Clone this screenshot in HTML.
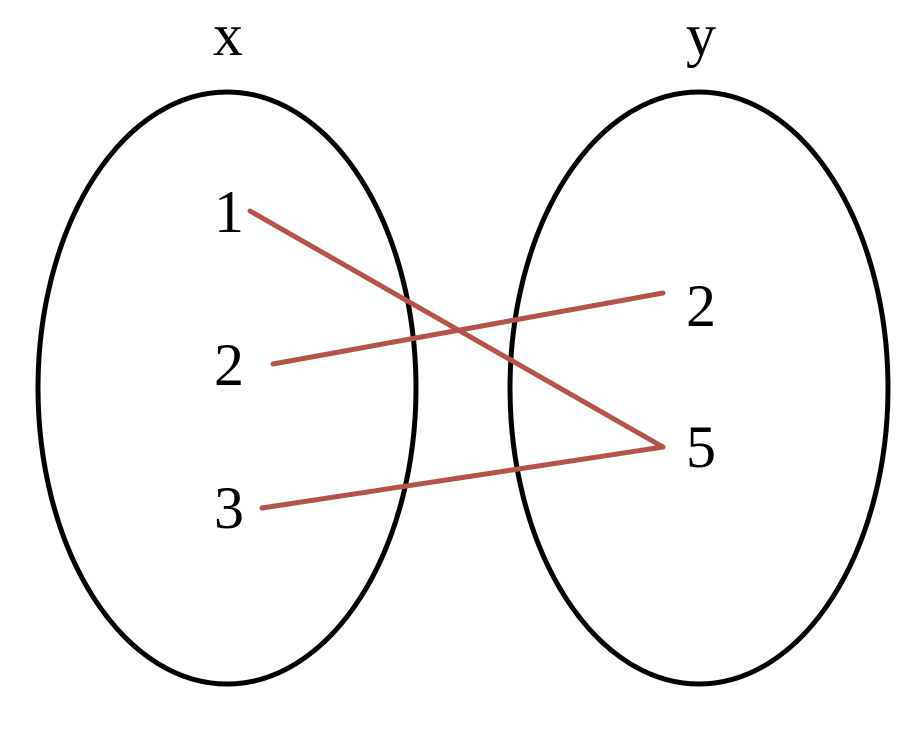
<!DOCTYPE html>
<html><head><meta charset="utf-8"><style>html,body{margin:0;padding:0;background:#fff}</style></head>
<body>
<svg width="901" height="730" viewBox="0 0 901 730" xmlns="http://www.w3.org/2000/svg">
<rect width="901" height="730" fill="#fff"/>
<ellipse cx="227" cy="388" rx="189" ry="296" fill="none" stroke="#000" stroke-width="5"/>
<ellipse cx="699" cy="388" rx="189" ry="296" fill="none" stroke="#000" stroke-width="5"/>
<g stroke="#b5524b" stroke-width="5" stroke-linecap="round" fill="none">
<line x1="250" y1="211" x2="663" y2="447"/>
<line x1="273" y1="364" x2="663" y2="293"/>
<line x1="262" y1="508" x2="663" y2="447"/>
</g>
<g font-family="Liberation Serif, serif" font-size="60" text-anchor="middle" fill="#000">
<text x="228" y="55">x</text>
<text x="701" y="55">y</text>
<text x="229" y="232">1</text>
<text x="229" y="385">2</text>
<text x="229" y="528">3</text>
<text x="701" y="326">2</text>
<text x="701" y="467">5</text>
</g>
</svg>
</body></html>
